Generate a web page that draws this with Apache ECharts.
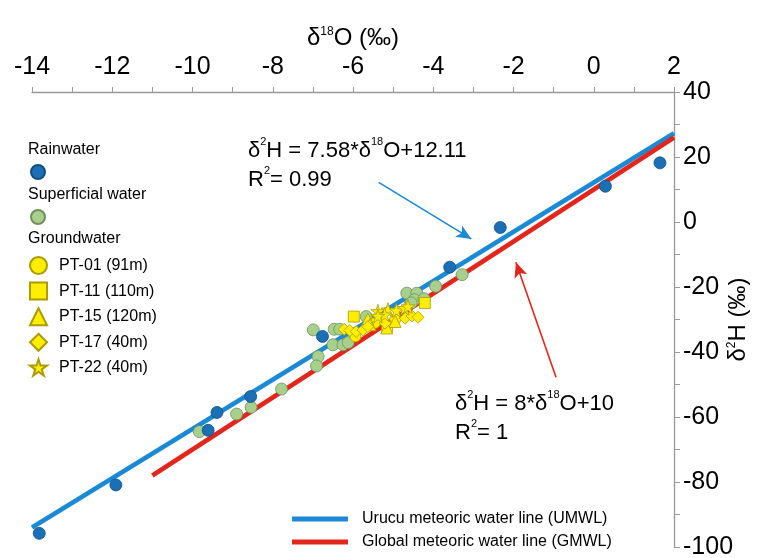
<!DOCTYPE html>
<html>
<head>
<meta charset="utf-8">
<script src="https://cdn.jsdelivr.net/npm/echarts@6/dist/echarts.min.js"></script>
<style>
  html, body { margin: 0; padding: 0; background: #fff; }
  #chart { width: 758px; height: 558px; }
</style>
</head>
<body>
<div id="chart"></div>
<script>
// δ18O / δ2H values
var rainwater = [[-13.82, -95.8], [-11.91, -80.9], [-9.61, -64.1], [-9.39, -58.6], [-8.55, -53.7],
  [-6.76, -35.2], [-3.59, -13.9], [-2.33, -1.7], [0.29, 11.0], [1.65, 18.2]];
var superficial = [[-9.83, -64.5], [-8.90, -59.1], [-8.54, -57.0], [-7.78, -51.4], [-6.99, -33.2],
  [-6.47, -33.0], [-6.50, -37.8], [-6.25, -37.8], [-6.12, -37.1], [-6.87, -41.4], [-6.91, -44.3],
  [-6.33, -33.0], [-5.67, -29.1], [-4.66, -21.9], [-4.41, -21.9], [-4.47, -23.9], [-4.23, -23.6],
  [-3.94, -19.8], [-3.28, -16.2], [-4.55, -24.9]];
var pt01 = [[-5.94, -35.2], [-5.45, -31.0], [-4.95, -30.0]];
var pt11 = [[-5.98, -29.1], [-4.21, -24.9], [-5.15, -32.2]];
var pt15 = [[-5.63, -29.9], [-5.58, -31.6], [-4.95, -30.6], [-5.16, -32.6]];
var pt17 = [[-6.22, -33.0], [-6.08, -33.4], [-5.92, -33.7], [-5.75, -33.2], [-5.63, -32.2],
  [-5.20, -31.1], [-4.70, -29.6], [-4.53, -28.9], [-4.38, -29.3]];
var pt22 = [[-5.38, -27.5], [-5.13, -27.0], [-4.92, -27.2], [-4.71, -26.5], [-5.21, -28.5],
  [-5.38, -28.9], [-4.63, -26.0]];
// end points of the two water lines
var umwlLine = [[-14, -94.0], [2, 27.3]];
var gmwlLine = [[-11, -78.0], [2, 26.0]];
// arrows pointing from the equations to the lines
var umwlArrow = [[-5.36, 12.2], [-3.05, -5.2]];
var gmwlArrow = [[-0.94, -47.8], [-1.94, -12.4]];

var FONT = 'Liberation Sans';
var yellow = '#ffee00', yellowEdge = '#a99b00';

function starPath() {
  var pts = [];
  for (var i = 0; i < 10; i++) {
    var r = i % 2 ? 19 : 50;
    var a = -Math.PI / 2 + i * Math.PI / 5;
    pts.push((50 + r * Math.cos(a)).toFixed(1) + ' ' + (50 + r * Math.sin(a)).toFixed(1));
  }
  return 'path://M' + pts.join(' L') + ' Z';
}
var STAR = starPath();

function gwSeries(name, data, symbol, size) {
  return {
    name: name, type: 'scatter', data: data, symbol: symbol, symbolSize: size, z: 4,
    itemStyle: { color: yellow, borderColor: yellowEdge, borderWidth: 0.8, opacity: 1 }
  };
}

var supRich = {
  a: { fontFamily: FONT, fontSize: 22, color: '#000', lineHeight: 29 },
  s: { fontFamily: FONT, fontSize: 11, color: '#000', lineHeight: 29, verticalAlign: 'top', padding: [0, 0, 12, 0] }
};
var nameRich = {
  a: { fontFamily: FONT, fontSize: 24, color: '#000' },
  s: { fontFamily: FONT, fontSize: 12, color: '#000', verticalAlign: 'top', padding: [0, 0, 12, 0] }
};

var myChart = echarts.init(document.getElementById('chart'));
var option = {
  animation: false,
  textStyle: { fontFamily: FONT },
  grid: { left: 32, right: 84, top: 92, bottom: 11, outerBoundsMode: 'none' },
  xAxis: {
    type: 'value', position: 'top', min: -14, max: 2, interval: 2,
    name: '{a|δ}{s|18}{a|O (‰)}', nameLocation: 'middle', nameGap: 38,
    nameTextStyle: { rich: nameRich },
    axisLine: { onZero: false, lineStyle: { color: '#9a9a9a', width: 1.3 } },
    axisTick: { length: 5, lineStyle: { color: '#9a9a9a' } },
    minorTick: { show: true, splitNumber: 2, length: 5, lineStyle: { color: '#9a9a9a' } },
    axisLabel: { fontSize: 25, color: '#000', margin: 12 },
    splitLine: { show: false }
  },
  yAxis: {
    type: 'value', position: 'right', min: -100, max: 40, interval: 20,
    name: '{a|δ}{s|2}{a|H (‰)}', nameLocation: 'middle', nameGap: 52, nameRotate: 90,
    nameMoveOverlap: false,
    nameTextStyle: { rich: nameRich },
    axisLine: { onZero: false, lineStyle: { color: '#9a9a9a', width: 1.3 } },
    axisTick: { length: 6, lineStyle: { color: '#9a9a9a' } },
    minorTick: { show: true, splitNumber: 2, length: 6, lineStyle: { color: '#9a9a9a' } },
    axisLabel: { fontSize: 25, color: '#000', margin: 9 },
    splitLine: { show: false }
  },
  legend: [
    {
      data: ['Rainwater'], left: 30, top: 164, padding: 0, itemWidth: 14, itemHeight: 14,
      formatter: function () { return ''; }, selectedMode: false
    },
    {
      data: ['Superficial water'], left: 30, top: 209, padding: 0, itemWidth: 14, itemHeight: 14,
      formatter: function () { return ''; }, selectedMode: false
    },
    {
      data: ['PT-01 (91m)', 'PT-11 (110m)', 'PT-15 (120m)', 'PT-17 (40m)', 'PT-22 (40m)'],
      orient: 'vertical', left: 29, top: 256, padding: 0, itemWidth: 17, itemHeight: 17, itemGap: 6.6,
      selectedMode: false,
      textStyle: { fontFamily: FONT, fontSize: 16, color: '#000', lineHeight: 17, padding: [0, 0, 0, 7] }
    },
    {
      data: [{ name: 'Urucu meteoric water line (UMWL)', icon: 'rect' }, { name: 'Global meteoric water line (GMWL)', icon: 'rect' }],
      orient: 'vertical', left: 292, top: 510, padding: 0, itemWidth: 56, itemHeight: 5, itemGap: 5,
      selectedMode: false,
      textStyle: { fontFamily: FONT, fontSize: 16, color: '#000', lineHeight: 18, padding: [0, 0, 0, 9] }
    }
  ],
  graphic: [
    { type: 'text', left: 28, top: 142, style: { text: 'Rainwater', font: '16px "Liberation Sans"', fill: '#000' } },
    { type: 'text', left: 28, top: 187, style: { text: 'Superficial water', font: '16px "Liberation Sans"', fill: '#000' } },
    { type: 'text', left: 28, top: 231, style: { text: 'Groundwater', font: '16px "Liberation Sans"', fill: '#000' } },
    { type: 'text', left: 248, top: 136, style: { text: '{a|δ}{s|2}{a|H = 7.58*δ}{s|18}{a|O+12.11}\n{a|R}{s|2}{a|= 0.99}', rich: supRich } },
    { type: 'text', left: 455, top: 389, style: { text: '{a|δ}{s|2}{a|H = 8*δ}{s|18}{a|O+10}\n{a|R}{s|2}{a|= 1}', rich: supRich } }
  ],
  series: [
    {
      name: 'Urucu meteoric water line (UMWL)', type: 'line', data: umwlLine, symbol: 'none', z: 2,
      lineStyle: { color: '#1a8ad4', width: 4.5 }, itemStyle: { color: '#1a8ad4' },
      markLine: {
        silent: true, symbol: ['none', 'arrow'], symbolSize: [10, 15], label: { show: false },
        lineStyle: { color: '#1a8ad4', width: 1.6, type: 'solid' },
        data: [[{ coord: umwlArrow[0] }, { coord: umwlArrow[1] }]]
      }
    },
    {
      name: 'Global meteoric water line (GMWL)', type: 'line', data: gmwlLine, symbol: 'none', z: 2,
      lineStyle: { color: '#e2261c', width: 4.5 }, itemStyle: { color: '#e2261c' },
      markLine: {
        silent: true, symbol: ['none', 'arrow'], symbolSize: [10, 15], label: { show: false },
        lineStyle: { color: '#e2261c', width: 1.6, type: 'solid' },
        data: [[{ coord: gmwlArrow[0] }, { coord: gmwlArrow[1] }]]
      }
    },
    {
      name: 'Rainwater', type: 'scatter', data: rainwater, symbolSize: 12, z: 4,
      itemStyle: { color: '#1a6fb5', borderColor: '#0e4f86', borderWidth: 0.8, opacity: 1 }
    },
    {
      name: 'Superficial water', type: 'scatter', data: superficial, symbolSize: 12, z: 3,
      itemStyle: { color: '#a8d08d', borderColor: '#6f8f5c', borderWidth: 0.8, opacity: 1 }
    },
    gwSeries('PT-01 (91m)', pt01, 'circle', 11),
    gwSeries('PT-11 (110m)', pt11, 'rect', 11),
    gwSeries('PT-15 (120m)', pt15, 'triangle', 12),
    gwSeries('PT-17 (40m)', pt17, 'diamond', 12),
    gwSeries('PT-22 (40m)', pt22, STAR, 14)
  ]
};
myChart.setOption(option);
</script>
</body>
</html>
